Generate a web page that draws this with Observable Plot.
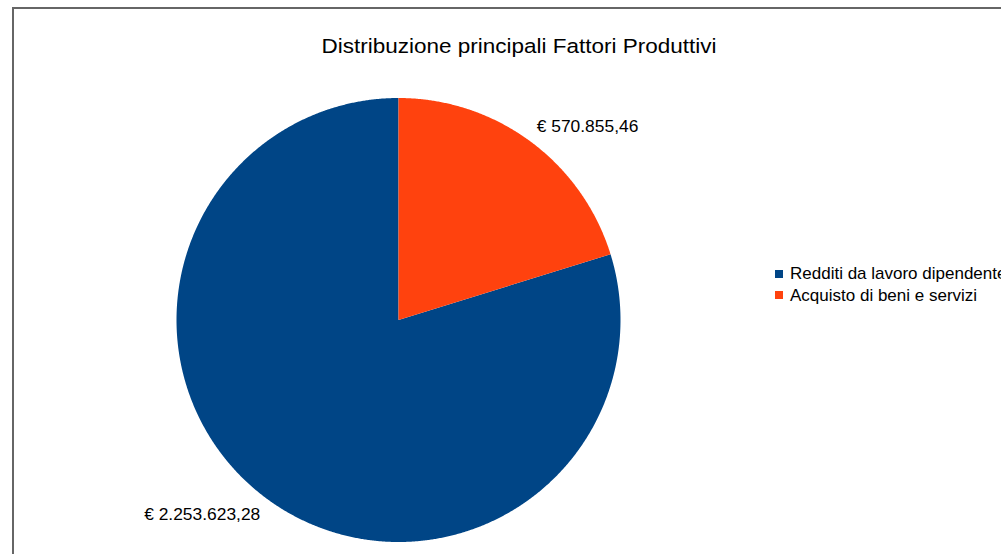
<!DOCTYPE html>
<html>
<head>
<meta charset="utf-8">
<script src="https://cdn.jsdelivr.net/npm/d3@7"></script>
<script src="https://cdn.jsdelivr.net/npm/@observablehq/plot@0.6"></script>
<style>
  html, body { margin: 0; padding: 0; background: #fff; }
  body { width: 1001px; height: 554px; overflow: hidden; position: relative; font-family: "Liberation Sans", Arial, sans-serif; }
  #frame { position: absolute; left: 12px; top: 7px; width: 1100px; height: 700px; border-left: 2px solid #666; border-top: 2px solid #666; box-sizing: border-box; }
  #chart { position: absolute; left: 0; top: 0; }
  #title { position: absolute; left: 0; width: 1039px; top: 35px; text-align: center; font-size: 20.5px; color: #000; white-space: nowrap; line-height: 22px; }
  #title span { display: inline-block; transform-origin: center; }
  #legend { position: absolute; left: 775px; top: 263px; width: 320px; }
  #legend div { font-family: "Liberation Sans", Arial, sans-serif !important; font-size: 17px !important; color: #000; overflow: visible !important; text-overflow: clip !important; margin: 0 !important; padding: 0 !important; line-height: 21.6px !important; }
  #legend svg { margin-right: 7px !important; }
</style>
</head>
<body>
<div id="frame"></div>
<div id="chart"></div>
<div id="title"><span>Distribuzione principali Fattori Produttivi</span></div>
<div id="legend"></div>
<script>
const categories = ["Redditi da lavoro dipendente", "Acquisto di beni e servizi"];
const values = [2253623.28, 570855.46];
const colors = ["#004586", "#ff420e"];

const itLocale = d3.formatLocale({decimal: ",", thousands: ".", grouping: [3], currency: ["€ ", ""]});
const fmt = itLocale.format("$,.2f");

const rows = categories.map((name, i) => ({name, value: values[i]}));
const arcs = d3.pie().value(d => d.value).sort(null).startAngle(0).endAngle(-2 * Math.PI)(rows);

// polygon outlines of each slice (unit circle, y up)
const pts = [];
for (const a of arcs) {
  const n = Math.max(2, Math.ceil(Math.abs(a.endAngle - a.startAngle) / 0.005));
  pts.push({name: a.data.name, x: 0, y: 0});
  for (let k = 0; k <= n; k++) {
    const t = a.startAngle + (a.endAngle - a.startAngle) * k / n;
    pts.push({name: a.data.name, x: Math.sin(t), y: Math.cos(t)});
  }
}

const labelR = 1.05;
const labels = arcs.map(a => {
  const m = (a.startAngle + a.endAngle) / 2;
  return {name: a.data.name, text: fmt(a.data.value), x: labelR * Math.sin(m), y: labelR * Math.cos(m)};
});

const cx = 398, cy = 319.5, R = 222;
const chart = Plot.plot({
  width: 1001,
  height: 554,
  margin: 0,
  style: {background: "transparent", overflow: "visible", fontFamily: "Liberation Sans, Arial, sans-serif"},
  x: {domain: [-1, 1], range: [cx - R, cx + R], axis: null},
  y: {domain: [-1, 1], range: [cy + R, cy - R], axis: null},
  color: {domain: categories, range: colors},
  marks: [
    Plot.line(pts, {x: "x", y: "y", z: "name", fill: "name", stroke: "none", curve: "linear-closed"}),
    Plot.text(labels.filter(d => d.x >= 0), {x: "x", y: "y", text: "text", textAnchor: "start", lineAnchor: "bottom", fontSize: 17.4, fill: "#000"}),
    Plot.text(labels.filter(d => d.x < 0), {x: "x", y: "y", text: "text", textAnchor: "end", lineAnchor: "top", fontSize: 17.4, fill: "#000"})
  ]
});
document.getElementById("chart").appendChild(chart);

const leg = chart.legend("color", {legend: "swatches", columns: 1, swatchSize: 8, className: "lg"});
document.getElementById("legend").appendChild(leg);

// stretch title to match the reference width
const span = document.querySelector("#title span");
const w = span.getBoundingClientRect().width;
span.style.transform = `scaleX(${395 / w})`;
</script>
</body>
</html>
